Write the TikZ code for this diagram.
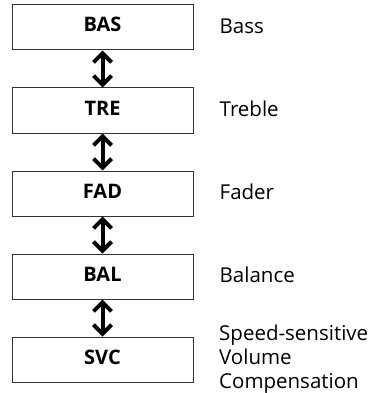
\documentclass[tikz,border=0pt]{standalone}
\usepackage{fontspec}
\setmainfont{Open Sans}
\usetikzlibrary{arrows.meta}
\tikzset{
  box/.style={draw=black!80, line width=1pt, minimum width=181pt, minimum height=45pt, inner sep=0pt, text height=14.5pt, text depth=5.5pt, font=\fontsize{20}{24}\selectfont\bfseries},
  lbl/.style={anchor=base west, inner sep=0pt, align=left, font=\fontsize{20.5}{24}\selectfont},
  dbl/.style={line width=4pt, {Straight Barb[length=9pt,width=18pt]}-{Straight Barb[length=9pt,width=18pt]}}
}
\begin{document}
\begin{tikzpicture}[x=1pt,y=-1pt]
\useasboundingbox (0,0) rectangle (369,393);
\node[box] (b1) at (102.5,27.5) {BAS};
\node[box] (b2) at (102.5,110.5) {TRE};
\node[box] (b3) at (102.5,193.5) {FAD};
\node[box] (b4) at (102.5,276.5) {BAL};
\node[box] (b5) at (102.5,359.5) {SVC};
\node[lbl] (l1) at (219.5,33.5) {Bass};
\node[lbl] (l2) at (219.5,116.5) {Treble};
\node[lbl] (l3) at (219.5,199.5) {Fader};
\node[lbl] (l4) at (219.5,282.5) {Balance};
\node[lbl] (l5) at (219,388) {Speed-sensitive\\Volume\\Compensation};
\draw[dbl] (b1.south) -- (b2.north);
\draw[dbl] (b2.south) -- (b3.north);
\draw[dbl] (b3.south) -- (b4.north);
\draw[dbl] (b4.south) -- (b5.north);
\end{tikzpicture}
\end{document}
